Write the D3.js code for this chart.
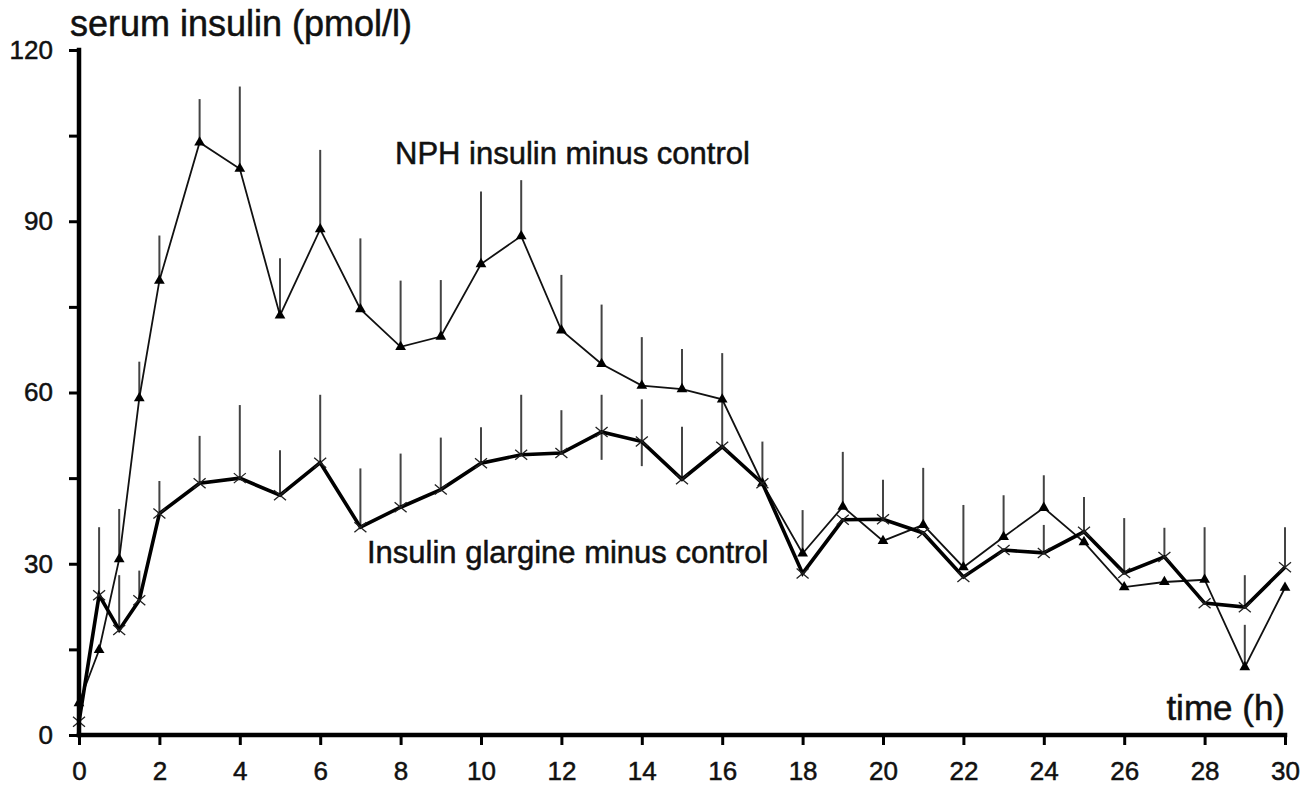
<!DOCTYPE html>
<html>
<head>
<meta charset="utf-8">
<script src="https://cdn.jsdelivr.net/npm/d3@7"></script>
<style>
  body { margin: 0; background: #fff; }
  svg text { font-family: "Liberation Sans", Arial, Helvetica, sans-serif; fill: #111; stroke: #111; stroke-width: 0.5px; }
</style>
</head>
<body>
<div id="chart"></div>
<script>
// time points (h)
var times = [0, 0.5, 1, 1.5, 2, 3, 4, 5, 6, 7, 8, 9, 10, 11, 12, 13, 14, 15,
             16, 17, 18, 19, 20, 21, 22, 23, 24, 25, 26, 27, 28, 29, 30];

// NPH insulin minus control (pmol/l), with top of SD bar (null = no bar)
var nphMean = [5.6, 14.9, 30.8, 59.0, 79.6, 103.8, 99.2, 73.5, 88.6, 74.6, 68.0, 69.8, 82.5, 87.4, 70.9, 65.0, 61.2, 60.6,
               58.8, 44.1, 31.8, 40.0, 34.0, 36.8, 29.4, 34.7, 39.8, 33.8, 25.9, 26.8, 27.2, 11.9, 25.8];
var nphHigh = [null, null, 39.6, 65.4, 87.5, 111.4, 113.6, 83.5, 102.5, 87.0, 79.6, 79.7, 95.2, 97.2, 80.6, 75.4, 69.7, 67.6,
               66.9, 51.4, 39.4, 49.6, null, 46.8, 40.3, 42.0, 45.5, null, null, null, 36.4, 19.3, null];

// Insulin glargine minus control (pmol/l)
var glaMean = [2.3, 24.5, 18.4, 23.6, 38.8, 44.1, 45.0, 42.0, 47.7, 36.4, 39.9, 43.0, 47.6, 49.1, 49.4, 53.1, 51.4, 44.8,
               50.5, 44.1, 28.3, 37.7, 37.8, 35.4, 27.7, 32.4, 31.9, 35.6, 28.4, 31.2, 23.1, 22.4, 29.4];
var glaHigh = [null, 36.4, 28.0, 28.8, 44.5, 52.4, 57.8, 49.9, 59.6, 46.7, 49.3, 52.1, 53.9, 59.6, 56.9, 59.6, 58.8, 54.0,
               58.8, null, null, null, 44.7, null, null, null, 36.8, 41.7, 38.0, 36.3, null, 28.0, 36.4];
var glaLow  = [null, null, null, null, null, null, null, null, null, null, null, null, null, null, null, 48.2, 47.1, null,
               null, null, null, null, null, null, null, null, null, null, null, null, null, null, null];

var xTicks = d3.range(0, 31, 2);
var yTicks = d3.range(0, 121, 15);
var yLabels = [0, 30, 60, 90, 120];

var width = 1310, height = 787;

var svg = d3.select('#chart').append('svg')
    .attr('width', width)
    .attr('height', height);

var x = d3.scaleLinear().domain([0, 30]).range([79, 1285]);
var y = d3.scaleLinear().domain([0, 120]).range([735, 50]);

function rows(mean, high, low) {
    return times.map(function (t, i) {
        return { t: t, v: mean[i], hi: high ? high[i] : null, lo: low ? low[i] : null };
    });
}
var nph = rows(nphMean, nphHigh);
var gla = rows(glaMean, glaHigh, glaLow);

// error bars (upward SD, a couple also drawn below)
function bars(data) {
    svg.append('g').selectAll('line')
        .data(data.filter(function (d) { return d.hi !== null || d.lo !== null; }))
        .enter().append('line')
        .attr('x1', function (d) { return x(d.t); })
        .attr('x2', function (d) { return x(d.t); })
        .attr('y1', function (d) { return y(d.lo !== null ? d.lo : d.v); })
        .attr('y2', function (d) { return y(d.hi !== null ? d.hi : d.v); })
        .attr('stroke', '#444')
        .attr('stroke-width', 2);
}
bars(gla);
bars(nph);

var line = d3.line()
    .x(function (d) { return x(d.t); })
    .y(function (d) { return y(d.v); });

svg.append('path')
    .datum(nph)
    .attr('d', line)
    .attr('fill', 'none')
    .attr('stroke', '#111')
    .attr('stroke-width', 1.8);

svg.append('path')
    .datum(gla)
    .attr('d', line)
    .attr('fill', 'none')
    .attr('stroke', '#000')
    .attr('stroke-width', 3.6);

// triangles for NPH
svg.append('g').selectAll('path')
    .data(nph)
    .enter().append('path')
    .attr('transform', function (d) { return 'translate(' + x(d.t) + ',' + y(d.v) + ')'; })
    .attr('d', d3.symbol().type(d3.symbolTriangle).size(50))
    .attr('fill', '#000');

// crosses for glargine
svg.append('g').selectAll('path')
    .data(gla)
    .enter().append('path')
    .attr('transform', function (d) { return 'translate(' + x(d.t) + ',' + y(d.v) + ')'; })
    .attr('d', 'M-6,-5L6,5M-6,5L6,-5')
    .attr('stroke', '#222')
    .attr('stroke-width', 1.3)
    .attr('fill', 'none');

// axes
var xAxis = d3.axisBottom(x)
    .tickValues(xTicks)
    .tickSize(10)
    .tickPadding(17)
    .tickSizeOuter(0)
    .tickFormat(d3.format('d'));

var yAxis = d3.axisLeft(y)
    .tickValues(yTicks)
    .tickSize(10)
    .tickPadding(16)
    .tickSizeOuter(0)
    .tickFormat(function (d) { return yLabels.indexOf(d) >= 0 ? d : ''; });

var gx = svg.append('g')
    .attr('transform', 'translate(0,' + y(0) + ')')
    .call(xAxis);
var gy = svg.append('g')
    .attr('transform', 'translate(' + x(0) + ',0)')
    .call(yAxis);

[gx, gy].forEach(function (g) {
    g.select('.domain').remove();
    g.selectAll('.tick line').attr('stroke', '#000').attr('stroke-width', 3);
    g.selectAll('.tick text')
        .style('font-family', '"Liberation Sans", Arial, sans-serif')
        .attr('font-size', 26)
        .attr('fill', '#111');
});

// heavy axis lines
svg.append('line')
    .attr('x1', x(0)).attr('x2', x(30))
    .attr('y1', y(0)).attr('y2', y(0))
    .attr('stroke', '#000').attr('stroke-width', 4.5)
    .attr('stroke-linecap', 'square');
svg.append('line')
    .attr('x1', x(0)).attr('x2', x(0))
    .attr('y1', y(0)).attr('y2', y(120))
    .attr('stroke', '#000').attr('stroke-width', 4.5)
    .attr('stroke-linecap', 'square');

// axis titles
svg.append('text')
    .attr('x', 70)
    .attr('y', 36)
    .attr('font-size', 36)
    .text('serum insulin (pmol/l)');

svg.append('text')
    .attr('x', x(30))
    .attr('y', 720)
    .attr('text-anchor', 'end')
    .attr('font-size', 35)
    .text('time (h)');

// series labels
svg.append('text')
    .attr('x', 395)
    .attr('y', 164)
    .attr('font-size', 31)
    .text('NPH insulin minus control');

svg.append('text')
    .attr('x', 367)
    .attr('y', 563)
    .attr('font-size', 31)
    .text('Insulin glargine minus control');
</script>
</body>
</html>
